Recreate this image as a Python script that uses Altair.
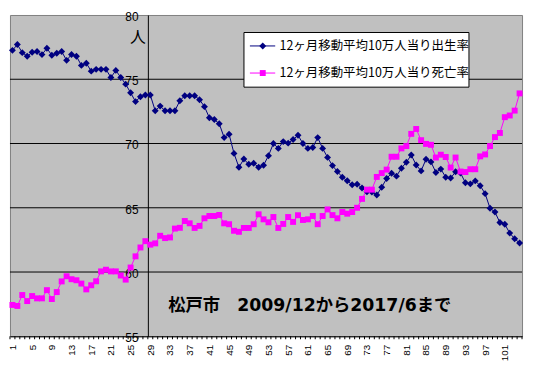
import altair as alt
import pandas as pd

# ---------------- data ----------------
months = list(range(1, 105))
birth_rate = [
    77.25, 77.70, 77.07, 76.79, 77.10, 77.16, 76.92, 77.41, 76.87, 77.02,
    77.16, 76.47, 76.93, 76.79, 76.08, 76.25, 75.63, 75.77, 75.77, 75.77,
    75.14, 75.69, 75.14, 74.62, 73.95, 73.26, 73.64, 73.77, 73.77, 72.55,
    72.91, 72.55, 72.55, 72.55, 73.33, 73.72, 73.72, 73.72, 73.41, 72.87,
    72.00, 71.87, 71.54, 70.46, 70.72, 69.23, 68.15, 68.79, 68.38, 68.46,
    68.15, 68.31, 69.05, 70.00, 69.62, 70.15, 70.03, 70.31, 70.64, 70.00,
    69.62, 69.69, 70.46, 69.62, 68.92, 68.28, 67.82, 67.38, 67.10, 66.79,
    66.83, 66.54, 66.24, 66.23, 66.00, 66.60, 67.28, 67.69, 67.46, 68.08,
    68.54, 69.10, 68.33, 67.87, 68.78, 68.57, 67.75, 68.01, 67.38, 67.31,
    67.80, 67.70, 66.95, 66.86, 67.09, 66.72, 66.10, 64.96, 64.67, 63.85,
    63.72, 63.03, 62.59, 62.26,
]
death_rate = [
    57.44, 57.36, 58.21, 57.74, 58.13, 57.95, 57.95, 58.59, 57.90, 58.44,
    59.27, 59.67, 59.44, 59.36, 59.10, 58.65, 58.97, 59.28, 60.05, 60.18,
    60.05, 60.05, 59.73, 59.41, 60.35, 61.22, 61.91, 62.40, 62.13, 62.23,
    62.82, 62.64, 62.69, 63.38, 63.44, 63.97, 63.79, 63.43, 63.59, 64.18,
    64.36, 64.36, 64.44, 63.79, 63.72, 63.21, 63.13, 63.43, 63.43, 63.72,
    64.49, 64.10, 63.87, 64.28, 63.43, 63.74, 64.28, 63.90, 64.42, 64.05,
    64.10, 64.36, 63.72, 64.36, 64.87, 64.43, 64.18, 64.67, 64.54, 64.67,
    65.00, 65.69, 66.41, 66.41, 67.40, 67.70, 67.97, 68.97, 68.97, 69.62,
    69.80, 70.75, 71.13, 70.26, 69.97, 69.90, 68.91, 69.13, 68.95, 68.13,
    68.91, 67.82, 67.78, 68.00, 68.00, 69.00, 69.15, 69.80, 70.50, 70.82,
    72.05, 72.18, 72.56, 73.90,
]
x_tick_labels = list(range(1, 102, 4))
y_tick_labels = [55, 60, 65, 70, 75, 80]
grid_values = [60, 65, 70, 75]
legend_labels = ["12ヶ月移動平均10万人当り出生率", "12ヶ月移動平均10万人当り死亡率"]
series_colors = ["#000080", "#FF00FF"]
annotation = "松戸市　2009/12から2017/6まで"
unit_label = "人"

# ---------------- chart ----------------
W, H = 518, 325
df = pd.DataFrame({"month": months, "birth": birth_rate, "death": death_rate})
bounds = pd.DataFrame({"b": [m - 0.5 for m in months] + [months[-1] + 0.5]})
grid_df = pd.DataFrame({"v": grid_values})
one = pd.DataFrame({"k": [0]})

xscale = alt.Scale(domain=[0.5, 104.5], nice=False, zero=False)
yscale = alt.Scale(domain=[55, 80], nice=False, zero=False)

x_axis = alt.Axis(values=x_tick_labels, labelAngle=-90, labelFontSize=10,
                  labelFont="Liberation Sans", labelColor="black",
                  labelPadding=8, tickSize=0, ticks=False, grid=False,
                  domainColor="black", domainWidth=1, labelFlush=False,
                  labelOverlap=False, labelBound=False, title=None)
y_axis = alt.Axis(values=y_tick_labels, offset=-139.5, labelFontSize=12,
                  labelFont="Liberation Sans", labelColor="black",
                  labelPadding=10, tickSize=0, ticks=False, grid=False,
                  domainColor="black", domainWidth=1, labelFlush=False,
                  labelOverlap=False, labelBound=False, labelOffset=1.5,
                  title=None)

X = alt.X("month:Q", scale=xscale, axis=x_axis)

grid = alt.Chart(grid_df).mark_rule(color="black", strokeWidth=1).encode(
    y=alt.Y("v:Q", scale=yscale, axis=y_axis)
)

minor_ticks = alt.Chart(bounds).mark_rule(color="black", strokeWidth=1).encode(
    x=alt.X("b:Q", scale=xscale, axis=x_axis),
    y=alt.value(H), y2=alt.value(H + 3)
)

birth_line = alt.Chart(df).mark_line(color=series_colors[0], strokeWidth=1).encode(
    x=X, y=alt.Y("birth:Q", scale=yscale, axis=y_axis)
)
birth_pts = alt.Chart(df).mark_point(shape="diamond", filled=True, size=49,
                                     color=series_colors[0], opacity=1).encode(
    x=X, y=alt.Y("birth:Q", scale=yscale, axis=y_axis)
)
death_line = alt.Chart(df).mark_line(color=series_colors[1], strokeWidth=1).encode(
    x=X, y=alt.Y("death:Q", scale=yscale, axis=y_axis)
)
death_pts = alt.Chart(df).mark_point(shape="square", filled=True, size=36,
                                     color=series_colors[1], opacity=1).encode(
    x=X, y=alt.Y("death:Q", scale=yscale, axis=y_axis)
)

# legend (drawn by hand)
lg_box = alt.Chart(one).mark_rect(fill="white", stroke="black", strokeWidth=1).encode(
    x=alt.value(236.7), x2=alt.value(464.3), y=alt.value(17.7), y2=alt.value(73)
)
legend_layers = [lg_box]
for label, color, shape, size, yy in [
    (legend_labels[0], series_colors[0], "diamond", 49, 31.3),
    (legend_labels[1], series_colors[1], "square", 36, 58.7),
]:
    legend_layers.append(alt.Chart(one).mark_rule(color=color, strokeWidth=1).encode(
        x=alt.value(242.7), x2=alt.value(268.3), y=alt.value(yy)))
    legend_layers.append(alt.Chart(one).mark_point(shape=shape, filled=True, size=size,
                                                   color=color, opacity=1).encode(
        x=alt.value(255.7), y=alt.value(yy)))
    legend_layers.append(alt.Chart(one).mark_text(
        text=label, font="Noto Sans CJK JP", fontSize=12.6, align="left",
        baseline="middle", color="black").encode(x=alt.value(272.7), y=alt.value(yy)))

unit_text = alt.Chart(one).mark_text(
    text=unit_label, font="Noto Sans CJK JP", fontSize=16, align="center",
    baseline="middle", color="black").encode(x=alt.value(129.5), y=alt.value(23.5))

note_text = alt.Chart(one).mark_text(
    text=annotation, font="DejaVu Sans, Noto Sans CJK JP", fontSize=17.5,
    fontWeight="bold", align="left", baseline="middle", color="black"
).encode(x=alt.value(160), y=alt.value(294.5))

chart = alt.layer(
    grid, minor_ticks, birth_line, death_line, birth_pts, death_pts,
    *legend_layers, unit_text, note_text
).properties(
    width=W, height=H,
    autosize=alt.AutoSizeParams(type="none"),
    padding={"left": 2, "top": 5, "right": 4, "bottom": 30},
    background="white",
).configure_view(
    fill="#C0C0C0", stroke="#808080", strokeWidth=1
)

chart.save("out.html", embed_options={"renderer": "svg", "actions": False})
